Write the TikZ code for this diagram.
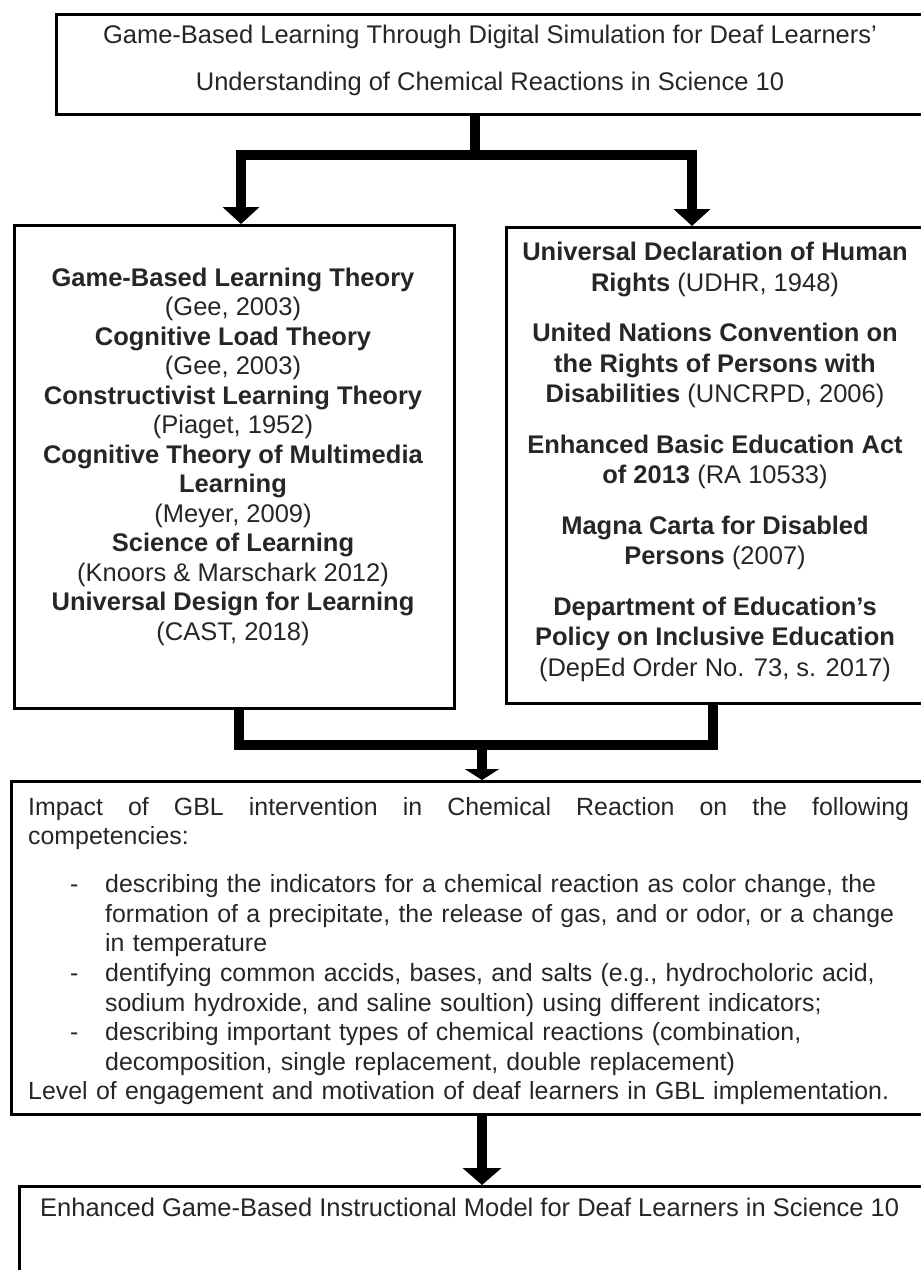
\documentclass[tikz,border=0pt]{standalone}
\usepackage{fontspec}
\setmainfont{Liberation Sans}
\usetikzlibrary{arrows.meta}
\begin{document}
\begin{tikzpicture}[x=1pt,y=-1pt,
  box/.style={draw=black, line width=3.2pt, rectangle, inner sep=0pt, anchor=north west},
  conn/.style={line width=10pt, draw=black},
  txt/.style={inner sep=0pt, font=\fontsize{25.5}{29.5}\selectfont, text=black!85}
]
\useasboundingbox (0,0) rectangle (921,1270);
% boxes
\node[box, minimum width=870pt, minimum height=100pt] (top) at (55,13) {};
\node[box, minimum width=440pt, minimum height=483pt] (L) at (13,224) {};
\node[box, minimum width=420pt, minimum height=476pt] (R) at (505,226) {};
\node[box, minimum width=917pt, minimum height=333pt] (I) at (10,780) {};
\node[box, minimum width=907pt, minimum height=120pt] (F) at (18,1185) {};
% texts (anchor base = baseline of the last line)
\node[txt, anchor=base, align=center, font=\fontsize{25.5}{47}\selectfont] (toptxt) at (490,90)
  {Game-Based Learning Through Digital Simulation for Deaf Learners’\\Understanding of Chemical Reactions in Science 10};
\node[txt, anchor=base, align=center] (Ltxt) at (233,640)
  {\textbf{Game-Based Learning Theory}\\(Gee, 2003)\\
   \textbf{Cognitive Load Theory}\\(Gee, 2003)\\
   \textbf{Constructivist Learning Theory}\\(Piaget, 1952)\\
   \textbf{Cognitive Theory of Multimedia}\\\textbf{Learning}\\(Meyer, 2009)\\
   \textbf{Science of Learning}\\(Knoors \& Marschark 2012)\\
   \textbf{Universal Design for Learning}\\(CAST, 2018)};
\node[txt, anchor=base, align=center, font=\fontsize{25.5}{30.3}\selectfont] (Rtxt) at (715,676)
  {\textbf{Universal Declaration of Human}\\\textbf{Rights} (UDHR, 1948)\\[20.5pt]
   \textbf{United Nations Convention on}\\\textbf{the Rights of Persons with}\\\textbf{Disabilities} (UNCRPD, 2006)\\[20.5pt]
   \textbf{Enhanced Basic Education Act}\\\textbf{of 2013} (RA 10533)\\[20.5pt]
   \textbf{Magna Carta for Disabled}\\\textbf{Persons} (2007)\\[20.5pt]
   \textbf{Department of Education’s}\\\textbf{Policy on Inclusive Education}\\(DepEd Order No. 73, s. 2017)};
\node[txt, anchor=base west, align=left, text width=881pt, font=\fontsize{24.9}{29.6}\selectfont] (Itxt) at (28,815)
  {\makebox[881pt][l]{Impact\hfill of\hfill GBL\hfill intervention\hfill in\hfill Chemical\hfill Reaction\hfill on\hfill the\hfill following}\\
   competencies:\\[18.5pt]
   \hspace*{42pt}\makebox[35pt][l]{-}describing the indicators for a chemical reaction as color change, the\\
   \hspace*{77pt}formation of a precipitate, the release of gas, and or odor, or a change\\
   \hspace*{77pt}in temperature\\
   \hspace*{42pt}\makebox[35pt][l]{-}dentifying common accids, bases, and salts (e.g., hydrocholoric acid,\\
   \hspace*{77pt}sodium hydroxide, and saline soultion) using different indicators;\\
   \hspace*{42pt}\makebox[35pt][l]{-}describing important types of chemical reactions (combination,\\
   \hspace*{77pt}decomposition, single replacement, double replacement)\\
   Level of engagement and motivation of deaf learners in GBL implementation.};
\node[txt, anchor=base west] (Ftxt) at (40,1216)
  {Enhanced Game-Based Instructional Model for Deaf Learners in Science 10};
% connectors
\coordinate (j1) at (475,155);
\coordinate (jL) at (241,155);
\coordinate (jR) at (692,155);
\draw[conn] (top.south -| j1) -- (j1);
\draw[conn, {Triangle[width=36pt,length=17pt]}-{Triangle[width=36pt,length=17pt]}]
  (jL |- L.north) -- (jL) -- (jR) -- (jR |- R.north);
\coordinate (kL) at (238.5,744.5);
\coordinate (kR) at (712.5,744.5);
\coordinate (k1) at (482,744.5);
\draw[conn] (kL |- L.south) -- (kL) -- (kR) -- (kR |- R.south);
\draw[conn, -{Triangle[width=34pt,length=11pt]}] (k1) -- (I.north -| k1);
\draw[conn, -{Triangle[width=38pt,length=17pt]}] (I.south -| k1) -- (F.north -| k1);
\end{tikzpicture}
\end{document}
